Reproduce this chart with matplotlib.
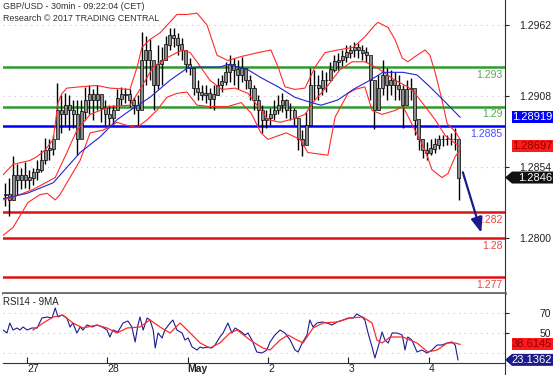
import matplotlib
matplotlib.use("Agg")
import matplotlib.pyplot as plt
from matplotlib.patches import Polygon
from matplotlib.lines import Line2D
from matplotlib.transforms import IdentityTransform
import numpy as np

plt.rcParams['font.family'] = ['Liberation Sans', 'DejaVu Sans']

# --- price bars (30 min) ---
high = [1.2842, 1.2846, 1.2862, 1.2856, 1.2853, 1.2858, 1.2852, 1.2853, 1.2859, 1.2867,
        1.2876, 1.2875, 1.2878, 1.2918, 1.2909, 1.2910, 1.2909, 1.2905, 1.2905, 1.2905,
        1.2915, 1.2916, 1.2913, 1.2916, 1.2909, 1.2905, 1.2901, 1.2901, 1.2913, 1.2915,
        1.2914, 1.2913, 1.2907, 1.2909, 1.2957, 1.2954, 1.2951, 1.2930, 1.2947, 1.2945,
        1.2954, 1.2960, 1.2960, 1.2956, 1.2952, 1.2939, 1.2937, 1.2929, 1.2920, 1.2916,
        1.2916, 1.2914, 1.2916, 1.2922, 1.2924, 1.2934, 1.2939, 1.2937, 1.2935, 1.2938,
        1.2929, 1.2924, 1.2916, 1.2909, 1.2901, 1.2897, 1.2899, 1.2905, 1.2909, 1.2910,
        1.2906, 1.2903, 1.2899, 1.2884, 1.2882, 1.2896, 1.2929, 1.2928, 1.2924, 1.2928,
        1.2926, 1.2934, 1.2939, 1.2941, 1.2943, 1.2947, 1.2947, 1.2949, 1.2948, 1.2947,
        1.2945, 1.2937, 1.2916, 1.2924, 1.2935, 1.2929, 1.2928, 1.2926, 1.2924, 1.2916,
        1.2920, 1.2922, 1.2905, 1.2886, 1.2875, 1.2873, 1.2875, 1.2876, 1.2878, 1.2878,
        1.2878, 1.2880, 1.2884, 1.2867]
low = [1.2824, 1.2817, 1.2829, 1.2833, 1.2837, 1.2838, 1.2837, 1.2840, 1.2844, 1.2850,
       1.2856, 1.2859, 1.2863, 1.2882, 1.2880, 1.2886, 1.2882, 1.2884, 1.2863, 1.2882,
       1.2890, 1.2894, 1.2890, 1.2897, 1.2888, 1.2886, 1.2885, 1.2886, 1.2897, 1.2901,
       1.2903, 1.2900, 1.2894, 1.2885, 1.2910, 1.2916, 1.2920, 1.2897, 1.2913, 1.2916,
       1.2935, 1.2943, 1.2945, 1.2939, 1.2935, 1.2926, 1.2924, 1.2909, 1.2905, 1.2905,
       1.2903, 1.2899, 1.2897, 1.2909, 1.2911, 1.2916, 1.2919, 1.2916, 1.2913, 1.2919,
       1.2913, 1.2905, 1.2897, 1.2886, 1.2880, 1.2884, 1.2886, 1.2890, 1.2894, 1.2896,
       1.2891, 1.2890, 1.2886, 1.2867, 1.2862, 1.2875, 1.2894, 1.2905, 1.2905, 1.2909,
       1.2911, 1.2920, 1.2926, 1.2928, 1.2931, 1.2934, 1.2937, 1.2938, 1.2937, 1.2935,
       1.2934, 1.2905, 1.2883, 1.2897, 1.2909, 1.2905, 1.2909, 1.2905, 1.2905, 1.2884,
       1.2901, 1.2905, 1.2878, 1.2867, 1.2861, 1.2859, 1.2863, 1.2865, 1.2868, 1.2870,
       1.2871, 1.2871, 1.2867, 1.2829]
close = [1.2833, 1.2829, 1.2848, 1.2844, 1.2848, 1.2844, 1.2846, 1.2850, 1.2852, 1.2859,
         1.2867, 1.2868, 1.2875, 1.2897, 1.2894, 1.2901, 1.2897, 1.2894, 1.2875, 1.2896,
         1.2905, 1.2909, 1.2905, 1.2909, 1.2899, 1.2894, 1.2891, 1.2897, 1.2906, 1.2909,
         1.2909, 1.2905, 1.2901, 1.2897, 1.2935, 1.2943, 1.2935, 1.2916, 1.2932, 1.2935,
         1.2947, 1.2954, 1.2952, 1.2947, 1.2943, 1.2932, 1.2929, 1.2914, 1.2911, 1.2909,
         1.2910, 1.2906, 1.2909, 1.2916, 1.2919, 1.2926, 1.2932, 1.2928, 1.2924, 1.2929,
         1.2920, 1.2914, 1.2905, 1.2897, 1.2890, 1.2891, 1.2894, 1.2897, 1.2901, 1.2905,
         1.2897, 1.2897, 1.2891, 1.2875, 1.2871, 1.2886, 1.2916, 1.2916, 1.2914, 1.2920,
         1.2920, 1.2928, 1.2934, 1.2935, 1.2938, 1.2941, 1.2943, 1.2945, 1.2943, 1.2941,
         1.2939, 1.2920, 1.2897, 1.2914, 1.2924, 1.2916, 1.2920, 1.2916, 1.2913, 1.2901,
         1.2913, 1.2914, 1.2890, 1.2875, 1.2867, 1.2865, 1.2868, 1.2871, 1.2875, 1.2875,
         1.2875, 1.2875, 1.2875, 1.2846]

# --- Bollinger bands (upper / middle / lower), bar index vs price ---
upper_t = [-0.5, 2.0, 6.2, 8.0, 10.0, 12.0, 13.2, 14.2, 15.4, 18.7, 22.9, 26.1, 31.1, 32.9, 34.1,
           36.1, 38.6, 42.8, 45.3, 47.8, 50.3, 52.8, 55.5, 58.8, 63.0, 66.2, 68.0, 69.7, 72.2, 74.7,
           77.2, 79.7, 82.9, 86.7, 89.6, 92.1, 92.9, 95.4, 97.1, 98.9, 100.3, 102.1, 104.6, 105.8,
           107.1, 108.8, 110.1, 112.1, 113.3]
upper_v = [1.2848, 1.2856, 1.2859, 1.2862, 1.2867, 1.2875, 1.2903, 1.2910, 1.2914, 1.2915, 1.2916,
           1.2914, 1.2913, 1.2930, 1.2945, 1.2951, 1.2956, 1.2970, 1.2970, 1.2971, 1.2962, 1.2939,
           1.2935, 1.2938, 1.2941, 1.2943, 1.2930, 1.2915, 1.2913, 1.2914, 1.2930, 1.2941, 1.2943,
           1.2945, 1.2953, 1.2962, 1.2964, 1.2960, 1.2951, 1.2937, 1.2934, 1.2938, 1.2943, 1.2939,
           1.2926, 1.2905, 1.2887, 1.2881, 1.2875]
mid_t = [-0.5, 2.0, 7.0, 12.5, 15.4, 17.9, 21.2, 26.1, 31.1, 33.6, 36.9, 40.3, 42.8, 44.3, 46.1,
         47.8, 51.0, 54.0, 57.3, 60.5, 63.0, 65.5, 68.5, 72.2, 74.7, 77.2, 80.4, 83.4, 86.4, 89.6,
         92.9, 97.1, 100.3, 102.1, 104.6, 107.1, 109.6, 112.1, 113.3]
mid_v = [1.2829, 1.2831, 1.2837, 1.2846, 1.2865, 1.2882, 1.2894, 1.2900, 1.2901, 1.2913, 1.2930,
         1.2937, 1.2941, 1.2943, 1.2941, 1.2934, 1.2920, 1.2913, 1.2914, 1.2910, 1.2900, 1.2890,
         1.2888, 1.2891, 1.2894, 1.2905, 1.2916, 1.2928, 1.2934, 1.2934, 1.2929, 1.2920, 1.2915,
         1.2910, 1.2900, 1.2890, 1.2878, 1.2872, 1.28697]
lower_t = [-0.5, 2.0, 5.7, 8.7, 10.5, 12.5, 13.7, 15.4, 18.7, 21.2, 24.4, 27.9, 29.9, 32.9, 35.4,
           37.8, 40.3, 42.8, 45.3, 47.8, 51.0, 55.5, 58.8, 61.3, 63.7, 65.5, 70.0, 73.5, 75.4, 80.4,
           82.2, 85.4, 87.2, 89.6, 91.4, 93.9, 97.1, 99.1, 102.1, 104.6, 106.3, 108.8, 110.3, 112.1,
           113.3]
lower_v = [1.2802, 1.2808, 1.2827, 1.2833, 1.2834, 1.2829, 1.2833, 1.2842, 1.2859, 1.2880, 1.2882,
           1.2888, 1.2886, 1.2884, 1.2890, 1.2897, 1.2907, 1.2910, 1.2911, 1.2901, 1.2900, 1.2900,
           1.2903, 1.2895, 1.2880, 1.2875, 1.2880, 1.2875, 1.2865, 1.2863, 1.2892, 1.2910, 1.2913,
           1.2915, 1.2897, 1.2894, 1.2897, 1.2900, 1.2882, 1.2867, 1.2852, 1.2846, 1.2849, 1.2862,
           1.2867]

# --- blue moving average ---
ma_t = [-0.5, 5.5, 12.0, 18.7, 23.7, 27.9, 31.1, 36.1, 41.1, 45.3, 47.8, 53.5, 55.5, 60.5, 63.7,
        68.0, 72.2, 76.2, 78.7, 82.9, 86.7, 90.9, 94.1, 99.1, 102.6, 105.8, 109.1, 113.3]
ma_v = [1.2830, 1.2834, 1.2842, 1.2865, 1.2877, 1.2890, 1.2897, 1.2907, 1.2920, 1.2929, 1.2930,
        1.2930, 1.2932, 1.2928, 1.2922, 1.2915, 1.2907, 1.2903, 1.2901, 1.2905, 1.2913, 1.2920,
        1.2926, 1.2926, 1.2924, 1.2915, 1.2905, 1.28919]

# --- RSI14 and its 9MA ---
rsi_t = [-0.5, 0.5, 1.2, 2.0, 3.0, 3.7, 4.5, 5.5, 6.7, 8.0, 9.2, 10.5, 11.7, 12.5, 13.2, 14.2, 15.4,
         16.2, 16.9, 17.9, 18.7, 19.4, 20.4, 21.7, 22.9, 24.2, 25.4, 26.1, 26.9, 28.1, 29.4, 30.6,
         31.6, 32.4, 33.1, 33.6, 34.4, 35.4, 36.1, 36.9, 37.4, 38.1, 39.1, 39.8, 41.1, 41.8, 42.8,
         44.1, 44.8, 45.6, 46.6, 47.8, 48.6, 49.3, 50.5, 51.5, 52.3, 53.5, 54.3, 55.5, 56.5, 57.3,
         58.5, 59.8, 60.5, 61.5, 62.7, 64.0, 65.2, 66.0, 67.2, 68.5, 69.7, 71.0, 72.2, 73.0, 74.0,
         75.2, 75.9, 76.7, 77.7, 78.9, 80.2, 81.4, 82.7, 84.2, 85.4, 86.7, 87.6, 88.9, 89.6, 90.4,
         91.4, 92.1, 92.9, 93.9, 94.6, 95.4, 96.4, 97.6, 98.9, 99.6, 100.3, 101.3, 102.6, 103.8,
         105.1, 106.3, 107.6, 108.8, 110.1, 111.3, 112.1, 112.8]
rsi_v = [53, 50, 60, 53, 55, 53, 56, 53, 55, 55, 65, 66, 65, 75, 66, 68, 65, 56, 60, 50,
         56, 53, 58, 56, 58, 56, 53, 46, 53, 51, 60, 62, 56, 41, 58, 66, 53, 65, 63, 53,
         35, 50, 45, 53, 60, 63, 53, 50, 43, 45, 36, 33, 36, 35, 36, 35, 38, 46, 50, 60,
         50, 55, 52, 48, 50, 43, 31, 30, 33, 41, 48, 53, 50, 43, 33, 31, 40, 48, 63, 56,
         60, 61, 60, 58, 61, 63, 65, 65, 69, 66, 63, 50, 36, 25, 36, 51, 43, 40, 50, 50,
         48, 33, 46, 43, 31, 33, 30, 33, 38, 38, 40, 41, 38, 23.1362]
rsi_ma_t = [7.0, 9.5, 12.0, 14.4, 16.9, 19.4, 22.9, 25.4, 27.9, 30.4, 33.6, 36.1, 38.6, 41.1, 43.6,
            46.1, 48.6, 51.0, 53.5, 56.0, 57.8, 61.0, 64.2, 66.0, 68.5, 70.5, 72.7, 74.2, 76.7,
            79.2, 82.7, 85.9, 89.1, 91.4, 92.6, 93.9, 95.9, 99.1, 102.6, 105.3, 107.6, 110.1,
            112.1, 113.3]
rsi_ma_v = [53, 60, 66, 68, 60, 55, 58, 55, 50, 55, 56, 63, 56, 50, 60, 50, 40, 35, 40, 50,
            53, 43, 35, 33, 43, 48, 43, 40, 55, 60, 61, 65, 66, 60, 43, 40, 46, 46, 40, 31,
            33, 40, 40, 38.6145]

# --- support / resistance levels ---
levels = [1.293, 1.29, 1.2885, 1.282, 1.28, 1.277]
level_labels = ['1.293', '1.29', '1.2885', '1.282', '1.28', '1.277']
level_colors = ['#2f9a2f', '#2f9a2f', '#0000ff', '#dd1111', '#dd1111', '#dd1111']
label_colors = ['#55a855', '#55a855', '#4a4aff', '#ee4444', '#ee4444', '#ee4444']

target_t = [113.8, 118.8]
target_v = [1.2852, 1.2802]

price_ticks = [1.2800, 1.2854, 1.2908, 1.2962]
day_ticks = [5.5, 25.5, 45.5, 65.5, 85.5, 105.5]
day_labels = ['27', '28', 'May', '2', '3', '4']

W, H = 553, 375
fig = plt.figure(figsize=(W / 100, H / 100), dpi=100)
ax = fig.add_axes([3 / W, 82 / H, 502 / W, 293 / H])
rx = fig.add_axes([3 / W, 12 / H, 502 / W, 69 / H])

# main panel
ax.set_xlim(-0.5, 124.5)
ax.set_ylim(1.27582, 1.29810)
for p in price_ticks[1:]:
    ax.axhline(p, color='#c4c4c4', lw=0.8, ls=(0, (1, 4)), zorder=0)

for lv, lc in zip(levels, level_colors):
    ax.axhline(lv, color=lc, lw=1.8, zorder=1)

idx = np.arange(len(close))
opens = np.r_[close[0], close[:-1]]
cl = np.array(close)
ax.vlines(idx, low, high, color='black', lw=1.0, zorder=3)
ax.bar(idx, np.abs(cl - opens) + 0.00003, bottom=np.minimum(cl, opens), width=0.75,
       color='#8c8c8c', edgecolor='black', lw=0.5, zorder=4)

ax.plot(upper_t, upper_v, color='#ff2a2a', lw=0.8, zorder=5)
ax.plot(mid_t, mid_v, color='#ff2a2a', lw=0.8, zorder=5)
ax.plot(lower_t, lower_v, color='#ff2a2a', lw=0.8, zorder=5)
ax.plot(ma_t, ma_v, color='#2323d8', lw=0.8, zorder=5)

ax.annotate('', xy=(target_t[1], target_v[1]), xytext=(target_t[0], target_v[0]),
            arrowprops=dict(arrowstyle='-|>,head_width=0.35,head_length=0.9',
                            color='#1a1a88', lw=1.6), zorder=6)

for lv, txt, tc in zip(levels, level_labels, label_colors):
    ax.annotate(txt, xy=(1.0, lv), xycoords=('axes fraction', 'data'),
                xytext=(-2, -2), textcoords='offset points',
                ha='right', va='top', fontsize=7.5, color=tc)

ax.yaxis.tick_right()
ax.set_yticks(price_ticks)
ax.set_yticklabels([f'{p:.4f}' for p in price_ticks])
ax.tick_params(axis='y', length=3, width=0.8, labelsize=7.5, pad=30, colors='#222222')
for t in ax.get_yticklabels():
    t.set_horizontalalignment('right')
ax.set_xticks([])
for s in ['top', 'left']:
    ax.spines[s].set_visible(False)
ax.spines['bottom'].set_color('#6a6a6a')
ax.spines['bottom'].set_linewidth(2.0)
ax.spines['right'].set_color('#333333')
ax.spines['right'].set_linewidth(0.8)

# RSI panel
rx.set_xlim(-0.5, 124.5)
rx.set_ylim(20, 89)
for g in [70, 50, 30]:
    rx.axhline(g, color='#c4c4c4', lw=0.8, ls=(0, (1, 4)), zorder=0)
rx.plot(rsi_t, rsi_v, color='#1c1c90', lw=0.8, zorder=3)
rx.plot(rsi_ma_t, rsi_ma_v, color='#ff2a2a', lw=0.9, zorder=4)
rx.yaxis.tick_right()
rx.set_yticks([50, 70])
rx.set_yticklabels(['50', '70'])
rx.tick_params(axis='y', length=3, width=0.8, labelsize=7.5, pad=30, colors='#222222')
for t in rx.get_yticklabels():
    t.set_horizontalalignment('right')
rx.set_xticks(day_ticks)
rx.set_xticklabels(day_labels)
rx.tick_params(axis='x', direction='in', length=4, width=0.8, labelsize=7.5, pad=1,
               colors='#222222')
for t in rx.get_xticklabels():
    t.set_horizontalalignment('left')
    if t.get_text() == 'May':
        t.set_fontweight('bold')
for s in ['top', 'left']:
    rx.spines[s].set_visible(False)
rx.spines['bottom'].set_color('#333333')
rx.spines['right'].set_color('#333333')
rx.spines['right'].set_linewidth(0.8)
fig.add_artist(Line2D([505 / W, 505 / W], [0, 12 / H], color='#333333', lw=0.8))

rx.text(0.0, 0.96, 'RSI14 - 9MA', transform=rx.transAxes, ha='left', va='top',
        fontsize=7, color='#222222')

fig.text(3 / W, 1 - 2 / H, 'GBP/USD - 30min - 09:22:04 (CET)', ha='left', va='top',
         fontsize=6.4, color='#303030')
fig.text(3 / W, 1 - 14 / H, 'Research \u00a9 2017 TRADING CENTRAL', ha='left', va='top',
         fontsize=6.4, color='#303030')


# value tags on the right
def tag(axis, value, text, fc, tc, arrow=False):
    y = axis.transData.transform((0, value))[1]
    h = 6
    if arrow:
        pts = [(505, y), (512, y + h), (553, y + h), (553, y - h), (512, y - h)]
    else:
        pts = [(512, y + h), (553, y + h), (553, y - h), (512, y - h)]
    fig.add_artist(Polygon(pts, closed=True, fc=fc, ec='none', transform=IdentityTransform()))
    fig.text(552 / W, y / H, text, ha='right', va='center', fontsize=8, color=tc)


tag(ax, ma_v[-1], f'{ma_v[-1]:.5f}', '#0000ff', 'white')
tag(ax, mid_v[-1], f'{mid_v[-1]:.5f}', '#ff1a1a', '#8a0000')
tag(ax, close[-1], f'{close[-1]:.4f}', '#111111', 'white', arrow=True)
tag(rx, rsi_ma_v[-1], f'{rsi_ma_v[-1]:.4f}', '#ff1a1a', '#8a0000')
tag(rx, rsi_v[-1], f'{rsi_v[-1]:.4f}', '#1c1c8a', 'white', arrow=True)

fig.savefig('out.png', dpi=100)
